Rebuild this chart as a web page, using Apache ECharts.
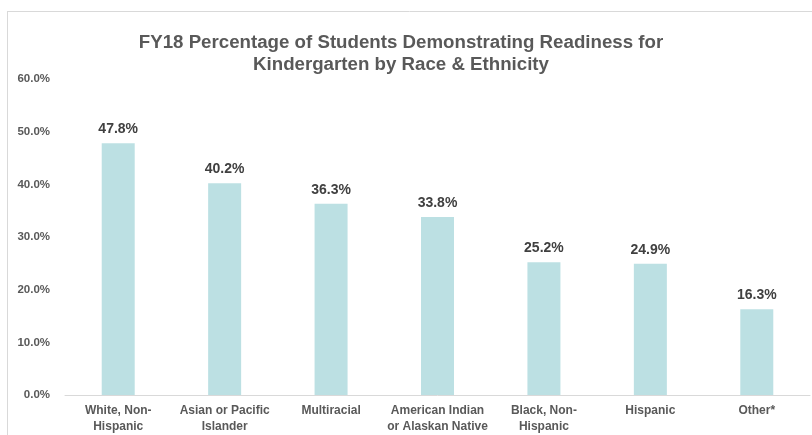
<!DOCTYPE html>
<html><head><meta charset="utf-8">
<script src="https://cdn.jsdelivr.net/npm/echarts@6/dist/echarts.min.js"></script>
<style>html,body{margin:0;padding:0;background:#fff}#c{width:812px;height:435px}</style>
</head><body><div id="c"></div>
<script>
const categories = ["White, Non-\nHispanic","Asian or Pacific\nIslander","Multiracial","American Indian\nor Alaskan Native","Black, Non-\nHispanic","Hispanic","Other*"];
const values = [47.8, 40.2, 36.3, 33.8, 25.2, 24.9, 16.3];
const yTicks = [0, 10, 20, 30, 40, 50, 60];

const chart = echarts.init(document.getElementById('c'));
chart.setOption({
  animation: false,
  graphic: [
    {type:'line', shape:{x1:7.5,y1:11,x2:7.5,y2:435}, style:{stroke:'#d9d9d9',lineWidth:1}},
    {type:'line', shape:{x1:7,y1:11.5,x2:812,y2:11.5}, style:{stroke:'#d9d9d9',lineWidth:1}}
  ],
  title: {
    text: 'FY18 Percentage of Students Demonstrating Readiness for\nKindergarten by Race & Ethnicity',
    left: 396, top: 27, textAlign: 'center',
    textStyle: {fontFamily:'Liberation Sans, Arial', fontSize:18.7, fontWeight:'bold', color:'#595959', lineHeight:22}
  },
  grid: {left: 65, top: 79, right: 2, height: 320, containLabel: false},
  xAxis: {
    type: 'category', data: categories,
    axisLine: {show:true, lineStyle:{color:'#d9d9d9'}},
    axisTick: {show:false},
    axisLabel: {interval:0, margin:8, fontFamily:'Liberation Sans, Arial', fontSize:12, fontWeight:'bold', color:'#595959', lineHeight:16}
  },
  yAxis: {
    type: 'value', min: yTicks[0], max: yTicks[yTicks.length-1], interval: 10,
    splitLine: {show:false}, axisLine:{show:false}, axisTick:{show:false},
    axisLabel: {margin: 15, fontFamily:'Liberation Sans, Arial', fontSize:11.5, fontWeight:'bold', color:'#595959',
      formatter: v => v.toFixed(1) + '%'}
  },
  series: [{
    type: 'bar', data: values, barWidth: 33,
    itemStyle: {color: '#bce0e3'},
    label: {show:true, position:'top', distance:7, formatter: p => p.value.toFixed(1) + '%',
      fontFamily:'Liberation Sans, Arial', fontSize:14, fontWeight:'bold', color:'#404040'}
  }]
});
</script></body></html>
